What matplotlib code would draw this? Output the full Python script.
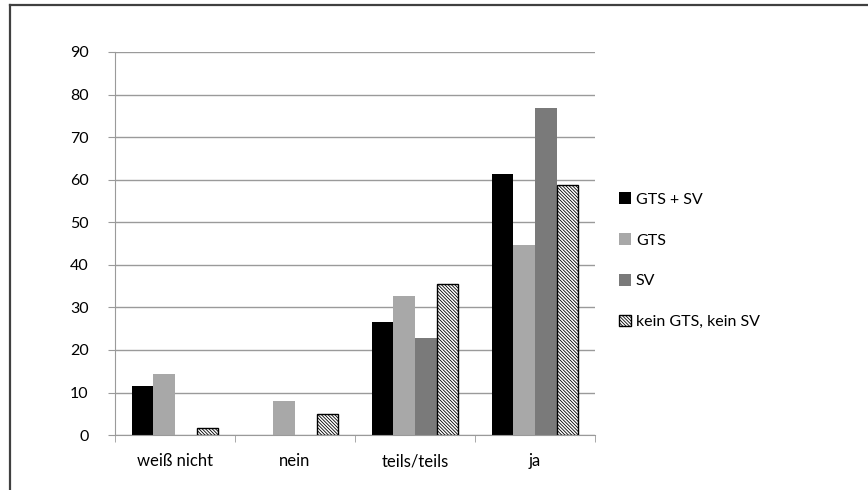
import numpy as np
import matplotlib.pyplot as plt
from matplotlib.lines import Line2D

plt.rcParams['font.family'] = ['Lato', 'DejaVu Sans']
plt.rcParams['hatch.linewidth'] = 0.6

categories = ['weiß nicht', 'nein', 'teils/teils', 'ja']
gts_sv = [11.5, 0, 26.6, 61.3]
gts = [14.4, 8.0, 32.6, 44.7]
sv = [0, 0, 22.9, 76.8]
kein = [1.6, 4.9, 35.6, 58.8]

labels = ['GTS + SV', 'GTS', 'SV', 'kein GTS, kein SV']

fig = plt.figure(figsize=(8.68, 4.90), dpi=100)
ax = fig.add_axes([0.1325, 0.112, 0.553, 0.782])

x = np.arange(len(categories))
w = 0.18
ax.bar(x - 1.5 * w, gts_sv, w, color='black', label=labels[0])
ax.bar(x - 0.5 * w, gts, w, color='#a8a8a8', label=labels[1])
ax.bar(x + 0.5 * w, sv, w, color='#7a7a7a', label=labels[2])
ax.bar(x + 1.5 * w, kein, w, color='white', edgecolor='black', hatch='\\' * 10,
       linewidth=1.0, label=labels[3])

ax.set_xlim(-0.5, len(categories) - 0.5)
ax.set_ylim(0, 90)
ax.set_yticks(range(0, 91, 10))
ax.yaxis.grid(True, color='#9a9a9a', linewidth=1.0)
ax.set_axisbelow(True)

ax.set_xticks(x)
ax.set_xticklabels(categories, fontsize=12)
ax.set_xticks(np.arange(-0.5, len(categories)), minor=True)
ax.tick_params(axis='x', which='major', length=0, pad=13)
ax.tick_params(axis='x', which='minor', length=5, color='#9a9a9a')
ax.tick_params(axis='y', length=5, color='#9a9a9a', labelsize=11.5, pad=14)

for side in ['top', 'right']:
    ax.spines[side].set_visible(False)
ax.spines['left'].set_color('#9a9a9a')
ax.spines['bottom'].set_color('#9a9a9a')

ax.legend(loc='center left', bbox_to_anchor=(1.02, 0.455), frameon=False,
          fontsize=11.5, handlelength=0.75, handleheight=0.75, handletextpad=0.3,
          labelspacing=1.65)

# frame round the figure
fig.add_artist(Line2D([10 / 868, 1.0], [1 - 5 / 490, 1 - 5 / 490],
                      transform=fig.transFigure, color='#404040', linewidth=1.6))
fig.add_artist(Line2D([10 / 868, 10 / 868], [0, 1 - 5 / 490],
                      transform=fig.transFigure, color='#404040', linewidth=1.6))

fig.savefig('out.png', dpi=100)
